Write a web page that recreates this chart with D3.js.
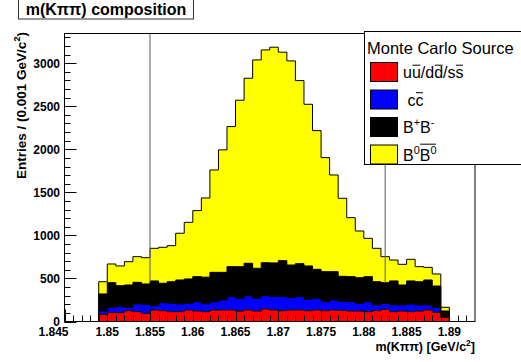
<!DOCTYPE html>
<html>
<head>
<meta charset="utf-8">
<script src="https://cdn.jsdelivr.net/npm/d3@7"></script>
<style>
  html, body { margin: 0; padding: 0; background: #fff; }
  svg { display: block; font-family: "Liberation Sans", Arial, Helvetica, sans-serif; }
</style>
</head>
<body>
<svg id="chart" width="521" height="362"></svg>
<script>
// Lower edges of the 0.001 GeV/c^2 mass bins
const binLow = [1.849, 1.850, 1.851, 1.852, 1.853, 1.854, 1.855, 1.856, 1.857, 1.858,
                1.859, 1.860, 1.861, 1.862, 1.863, 1.864, 1.865, 1.866, 1.867, 1.868,
                1.869, 1.870, 1.871, 1.872, 1.873, 1.874, 1.875, 1.876, 1.877, 1.878,
                1.879, 1.880, 1.881, 1.882, 1.883, 1.884, 1.885, 1.886, 1.887, 1.888,
                1.889];
const binWidth = 0.001;

// Entries per bin for each Monte Carlo source
const udsValues = [83, 103, 103, 126, 114, 95, 134, 126, 114, 114,
                   134, 122, 114, 134, 134, 134, 122, 134, 122, 145,
                   134, 126, 134, 134, 126, 134, 126, 134, 130, 122,
                   122, 114, 126, 142, 114, 122, 114, 122, 134, 107,
                   50];
const ccValues = [39, 62, 69, 39, 89, 104, 50, 93, 97, 89,
                  77, 108, 91, 96, 116, 155, 148, 166, 148, 155,
                  156, 163, 143, 155, 132, 136, 104, 116, 106, 108,
                  89, 116, 66, 69, 78, 70, 89, 70, 58, 58,
                  5];
const bpbmValues = [198, 286, 244, 259, 252, 237, 287, 225, 251, 279,
                    283, 291, 310, 341, 321, 348, 367, 376, 348, 383,
                    390, 418, 379, 383, 387, 336, 349, 329, 289, 291,
                    298, 291, 270, 240, 279, 232, 268, 270, 290, 247,
                    67];
const b0b0Values = [142, 217, 229, 271, 298, 305, 379, 418, 419, 543,
                    658, 767, 920, 1189, 1422, 1627, 1933, 2149, 2420, 2471,
                    2506, 2421, 2371, 2126, 1878, 1611, 1324, 1123, 906, 685,
                    542, 445, 388, 302, 243, 240, 251, 175, 147, 140,
                    43];

const seriesKeys = ["uds", "cc", "bpbm", "b0b0"];
const seriesColors = ["#ff0000", "#0000ff", "#000000", "#ffff00"];

// Axis ticks and labels
const xMajorTicks = [1.845, 1.85, 1.855, 1.86, 1.865, 1.87, 1.875, 1.88, 1.885, 1.89];
const xTickLabels = ["1.845", "1.85", "1.855", "1.86", "1.865", "1.87", "1.875", "1.88", "1.885", "1.89"];
const yMajorTicks = [0, 500, 1000, 1500, 2000, 2500, 3000];
const yTickLabels = ["0", "500", "1000", "1500", "2000", "2500", "3000"];

// Signal window markers
const windowEdges = [1.855, 1.8825];
const windowLineTop = 450;

const xDomain = [1.845, 1.893];
const yDomain = [0, 3345];

// ---------------------------------------------------------------------------
const svg = d3.select("#chart");
const frame = { left: 64.5, right: 475, top: 33.5, bottom: 321.5 };

const x = d3.scaleLinear().domain(xDomain).range([frame.left, frame.right]);
const y = d3.scaleLinear().domain(yDomain).range([frame.bottom, frame.top]);

svg.append("rect").attr("width", 521).attr("height", 362).attr("fill", "#fff");

// Build stacked table
const rows = binLow.map((lo, i) => ({
  lo,
  uds: udsValues[i], cc: ccValues[i], bpbm: bpbmValues[i], b0b0: b0b0Values[i]
}));
const stacked = d3.stack().keys(seriesKeys)(rows);

// Each cumulative histogram is filled from zero, drawn from the largest down
function stepPath(layer) {
  const p = d3.path();
  p.moveTo(x(rows[0].lo), y(0));
  layer.forEach((d, i) => {
    const lo = rows[i].lo;
    p.lineTo(x(lo), y(d[1]));
    p.lineTo(x(lo + binWidth), y(d[1]));
  });
  p.lineTo(x(rows[rows.length - 1].lo + binWidth), y(0));
  p.closePath();
  return p.toString();
}

const plot = svg.append("g");
for (let k = stacked.length - 1; k >= 0; k--) {
  plot.append("path")
    .attr("d", stepPath(stacked[k]))
    .attr("fill", seriesColors[k])
    .attr("stroke", "#000")
    .attr("stroke-width", 1)
    .attr("stroke-linejoin", "miter");
}

// Window markers
plot.selectAll("line.win").data(windowEdges).join("line")
  .attr("class", "win")
  .attr("x1", d => x(d)).attr("x2", d => x(d))
  .attr("y1", y(yDomain[1])).attr("y2", y(windowLineTop))
  .attr("stroke", "#666").attr("stroke-width", 1.1);

// Frame
svg.append("rect")
  .attr("x", frame.left).attr("y", frame.top)
  .attr("width", frame.right - frame.left).attr("height", frame.bottom - frame.top)
  .attr("fill", "none").attr("stroke", "#000").attr("stroke-width", 1);

// Ticks (pointing into the frame)
const axisG = svg.append("g").attr("stroke", "#000").attr("stroke-width", 1);
const xMinor = d3.range(0, 48).map(i => 1.845 + i * 0.001).filter(v => v <= xDomain[1]);
axisG.selectAll("line.xminor").data(xMinor).join("line")
  .attr("x1", d => Math.round(x(d)) + 0.5).attr("x2", d => Math.round(x(d)) + 0.5)
  .attr("y1", frame.bottom).attr("y2", frame.bottom - 6);
axisG.selectAll("line.xmajor").data(xMajorTicks).join("line")
  .attr("x1", d => Math.round(x(d)) + 0.5).attr("x2", d => Math.round(x(d)) + 0.5)
  .attr("y1", frame.bottom).attr("y2", frame.bottom - 12);
const yMinor = d3.range(0, 3400, 100).filter(v => v <= yDomain[1]);
axisG.selectAll("line.yminor").data(yMinor).join("line")
  .attr("x1", frame.left).attr("x2", frame.left + 6)
  .attr("y1", d => Math.round(y(d)) + 0.5).attr("y2", d => Math.round(y(d)) + 0.5);
axisG.selectAll("line.ymajor").data(yMajorTicks).join("line")
  .attr("x1", frame.left).attr("x2", frame.left + 12)
  .attr("y1", d => Math.round(y(d)) + 0.5).attr("y2", d => Math.round(y(d)) + 0.5);

// Tick labels (the first x label sits against the axis corner)
svg.append("g").selectAll("text").data(xMajorTicks).join("text")
  .attr("x", (d, i) => i === 0 ? x(d) + 4 : x(d)).attr("y", 336)
  .attr("text-anchor", (d, i) => i === 0 ? "end" : "middle")
  .attr("font-size", 12).attr("font-weight", "bold")
  .text((d, i) => xTickLabels[i]);
svg.append("g").selectAll("text").data(yMajorTicks).join("text")
  .attr("x", 60).attr("y", d => y(d) + 4.3)
  .attr("text-anchor", "end")
  .attr("font-size", 12).attr("font-weight", "bold")
  .text((d, i) => yTickLabels[i]);

// Rich text: runs of plain, superscript and overlined pieces
function richText(parent, segs, size, weight) {
  const g = parent.append("g");
  let cx = 0;
  const pieces = [];
  segs.forEach(s => {
    const fs = s.sup ? size * 0.68 : size;
    const el = g.append("text")
      .attr("x", cx).attr("y", s.sup ? -size * 0.42 : 0)
      .attr("font-size", fs).attr("font-weight", weight || "normal")
      .attr("xml:space", "preserve")
      .text(s.t);
    const w = el.node().getComputedTextLength();
    pieces.push({ x: cx, w, s });
    cx += w;
  });
  const bars = d3.group(pieces.filter(p => p.s.bar), p => p.s.bar);
  bars.forEach(ps => {
    const x0 = d3.min(ps, p => p.x), x1 = d3.max(ps, p => p.x + p.w);
    const hasSup = ps.some(p => p.s.sup);
    const yy = hasSup ? -size * 1.02 : -size * 0.8;
    g.append("line").attr("x1", x0 + 0.5).attr("x2", x1 - 0.5)
      .attr("y1", yy).attr("y2", yy).attr("stroke", "#000").attr("stroke-width", 1);
  });
  return { g, width: cx };
}

// Axis titles
const xt = richText(svg, [{ t: "m(Kππ) [GeV/c" }, { t: "2", sup: true }, { t: "]" }], 12.5, "bold");
xt.g.attr("transform", `translate(${frame.right - xt.width},351)`);

const yt = richText(svg, [{ t: "Entries / (0.001 GeV/c" }, { t: "2", sup: true }, { t: ")" }], 13.5, "bold");
yt.g.attr("transform", `translate(26,${frame.top - 1.5 + yt.width}) rotate(-90)`);

// Title box
const titleG = svg.append("g");
titleG.append("rect").attr("x", 18.5).attr("y", -0.5).attr("width", 175).attr("height", 19.5)
  .attr("fill", "#fff").attr("stroke", "#333").attr("stroke-width", 1);
titleG.append("text").attr("x", 106).attr("y", 15)
  .attr("text-anchor", "middle").attr("font-size", 16).attr("font-weight", "bold")
  .text("m(Kππ) composition");

// Legend
const legendEntries = [
  [{ t: "u" }, { t: "u", bar: 1 }, { t: "/d" }, { t: "d", bar: 2 }, { t: "/s" }, { t: "s", bar: 3 }],
  [{ t: "\u00a0c" }, { t: "c", bar: 1 }],
  [{ t: "B" }, { t: "+", sup: true }, { t: "B" }, { t: "-", sup: true }],
  [{ t: "B" }, { t: "0", sup: true }, { t: "B", bar: 1 }, { t: "0", sup: true, bar: 1 }]
];
const legendColors = ["#ff0000", "#0000ff", "#000000", "#ffff00"];
const legend = svg.append("g");
legend.append("rect").attr("x", 364.5).attr("y", 31.5).attr("width", 170).attr("height", 133)
  .attr("fill", "#fff").attr("stroke", "#000").attr("stroke-width", 1);
legend.append("text").attr("x", 367).attr("y", 54)
  .attr("font-size", 16.5).text("Monte Carlo Source");
legendEntries.forEach((segs, i) => {
  const cy = 72 + i * 27.5;
  legend.append("rect").attr("x", 370.5).attr("y", cy - 9.5).attr("width", 27).attr("height", 19)
    .attr("fill", legendColors[i]).attr("stroke", "#000").attr("stroke-width", 1);
  const t = richText(legend, segs, 16, "normal");
  t.g.attr("transform", `translate(403,${cy + 6})`);
});
</script>
</body>
</html>
